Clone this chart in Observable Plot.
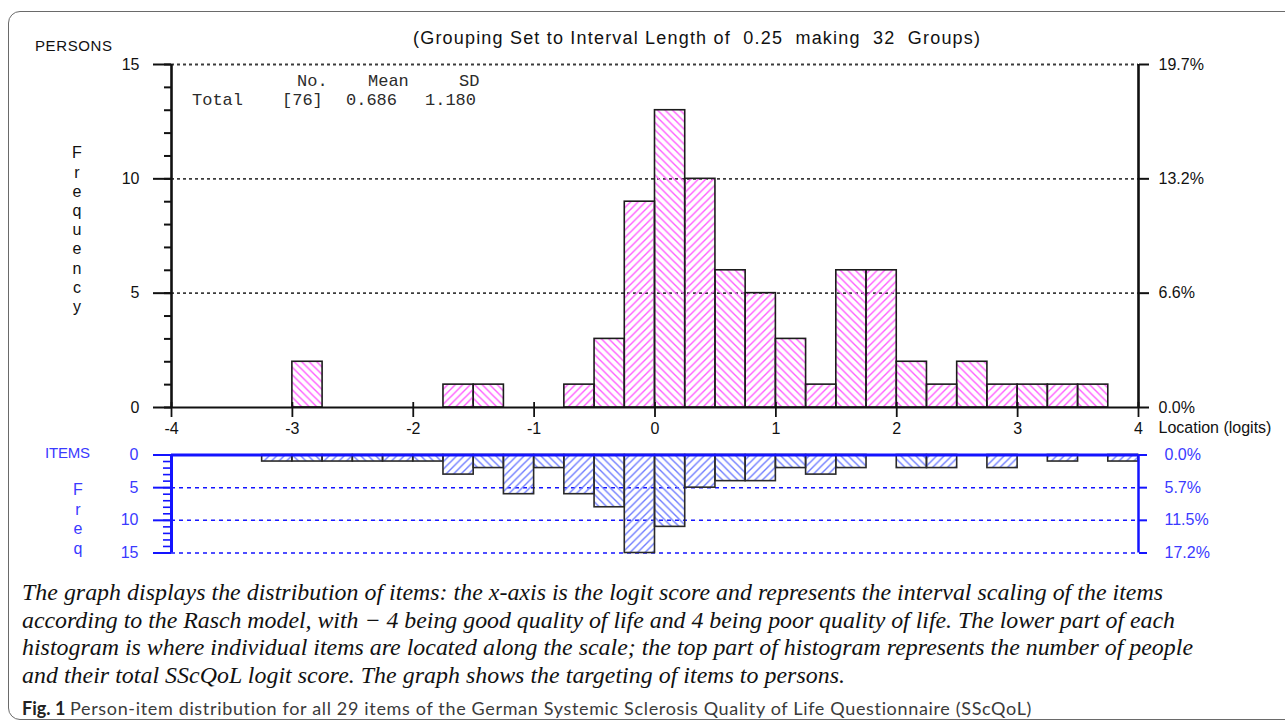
<!DOCTYPE html>
<html>
<head>
<meta charset="utf-8">
<script src="https://cdn.jsdelivr.net/npm/d3@7"></script>
<script src="https://cdn.jsdelivr.net/npm/@observablehq/plot@0.6"></script>
<style>
  html, body { margin: 0; padding: 0; background: #fff; }
  #root { position: relative; width: 1285px; height: 726px; overflow: hidden; background: #fff;
          font-family: "Liberation Sans", Arial, sans-serif; }
  .abs { position: absolute; white-space: pre; line-height: 1; }
  .plotbox { position: absolute; left: 0; }
  #frame { position: absolute; left: 8px; top: 11px; width: 1300px; height: 709px;
           border: 1.5px solid #6a6a6a; border-radius: 12px; box-sizing: border-box; }
</style>
</head>
<body>
<div id="root"><div id="frame"></div></div>
<script>
// ---------------- data ----------------
const binWidth = 0.25;
const xDomain = [-4, 4];
const xTicks = [-4, -3, -2, -1, 0, 1, 2, 3, 4];
const freqTicks = [0, 5, 10, 15];
const freqMinorTicks = [0, 1, 2, 3, 4, 5, 6, 7, 8, 9, 10, 11, 12, 13, 14, 15];

// persons: left edge of each 0.25-logit group and its count
const personBinStart = [-3, -1.75, -1.5, -0.75, -0.5, -0.25, 0, 0.25, 0.5, 0.75, 1, 1.25, 1.5, 1.75, 2, 2.25, 2.5, 2.75, 3, 3.25, 3.5];
const personCount    = [ 2,     1,    1,     1,    3,     9, 13,   10,   6,    5, 3,    1,   6,    6, 2,    1,   2,    1, 1,    1,   1];

// items (thresholds): left edge of each group and its count
const itemBinStart = [-3.25, -3, -2.75, -2.5, -2.25, -2, -1.75, -1.5, -1.25, -1, -0.75, -0.5, -0.25, 0, 0.25, 0.5, 0.75, 1, 1.25, 1.5, 2, 2.25, 2.75, 3.25, 3.75];
const itemCount    = [    1,  1,     1,    1,     1,  1,     3,    2,     6,  2,     6,    8,    15, 11,   5,   4,    4, 2,    3,   2, 2,    2,    2,    1,    1];

const statHeaders = ["No.", "Mean", "SD"];
const statRowLabel = "Total";
const statValues = ["[76]", "0.686", "1.180"];

const titleText = "(Grouping Set to Interval Length of  0.25  making  32  Groups)";
const captionLines = [
  "The graph displays the distribution of items: the x-axis is the logit score and represents the interval scaling of the items",
  "according to the Rasch model, with \u2212 4 being good quality of life and 4 being poor quality of life. The lower part of each",
  "histogram is where individual items are located along the scale; the top part of histogram represents the number of people",
  "and their total SScQoL logit score. The graph shows the targeting of items to persons."
];
const figLabel = "Fig. 1";
const figText = "Person-item distribution for all 29 items of the German Systemic Sclerosis Quality of Life Questionnaire (SScQoL)";

// ---------------- helpers ----------------
const root = document.getElementById("root");
const personTotal = d3.sum(personCount);
const itemTotal = d3.sum(itemCount);
const pct = total => d => (d / total * 100).toFixed(1) + "%";
const binIndex = lo => Math.round((lo - xDomain[0]) / binWidth);

const persons = personBinStart.map((lo, i) => ({lo, hi: lo + binWidth, count: personCount[i], k: binIndex(lo)}));
const items = itemBinStart.map((lo, i) => ({lo, hi: lo + binWidth, count: itemCount[i], k: binIndex(lo)}));

function addHatch(svg, prefix, color) {
  const s = 7.5;
  const defs = d3.select(svg).insert("defs", ":first-child");
  const back = defs.append("pattern").attr("id", prefix + "Back").attr("patternUnits", "userSpaceOnUse")
    .attr("width", s).attr("height", s);
  back.append("path").attr("d", `M0,0L${s},${s}M${-s/2},${s/2}L${s/2},${s*1.5}M${s/2},${-s/2}L${s*1.5},${s/2}`)
    .attr("stroke", color).attr("stroke-width", 1.4).attr("fill", "none");
  const fwd = defs.append("pattern").attr("id", prefix + "Fwd").attr("patternUnits", "userSpaceOnUse")
    .attr("width", s).attr("height", s);
  fwd.append("path").attr("d", `M0,${s}L${s},0M${-s/2},${s/2}L${s/2},${-s/2}M${s/2},${s*1.5}L${s*1.5},${s/2}`)
    .attr("stroke", color).attr("stroke-width", 1.4).attr("fill", "none");
}

function place(txt, o) {
  const el = document.createElement("div");
  el.className = "abs";
  el.textContent = txt;
  el.style.left = o.left + "px";
  el.style.top = (o.cy - o.size * 0.5) + "px";
  el.style.fontSize = o.size + "px";
  if (o.family) el.style.fontFamily = o.family;
  if (o.weight) el.style.fontWeight = o.weight;
  if (o.italic) el.style.fontStyle = "italic";
  el.style.color = o.color || "#111";
  if (o.lineHeight) el.style.lineHeight = o.lineHeight + "px";
  if (o.align) { el.style.textAlign = o.align; el.style.width = o.width + "px"; }
  root.appendChild(el);
  if (o.fit) {
    const w = el.getBoundingClientRect().width;
    el.style.letterSpacing = ((o.fit - w) / (txt.length - 1)) + "px";
  }
  return el;
}
function naturalWidth(txt, size, family, italic, weight) {
  const el = document.createElement("span");
  el.className = "abs";
  el.textContent = txt;
  el.style.fontSize = size + "px";
  el.style.fontFamily = family;
  if (italic) el.style.fontStyle = "italic";
  if (weight) el.style.fontWeight = weight;
  root.appendChild(el);
  const w = el.getBoundingClientRect().width;
  el.remove();
  return w;
}

// ---------------- persons histogram ----------------
const black = "#111";
const topPlot = Plot.plot({
  width: 1285, height: 440,
  marginLeft: 171, marginRight: 147, marginTop: 64, marginBottom: 33,
  x: {domain: xDomain},
  y: {domain: [0, 15]},
  style: {background: "transparent", overflow: "visible", fontSize: "16px",
          fontFamily: "'Liberation Sans', Arial, sans-serif", color: black},
  marks: [
    Plot.ruleY(freqTicks.filter(d => d > 0), {stroke: "#3c3c3c", strokeWidth: 1.8, strokeDasharray: "3,3"}),
    Plot.rectY(persons, {filter: d => d.k % 2 === 0, x1: "lo", x2: "hi", y1: 0, y2: "count",
      fill: "url(#persBack)", stroke: "#1c1c1c", strokeWidth: 1.6}),
    Plot.rectY(persons, {filter: d => d.k % 2 === 1, x1: "lo", x2: "hi", y1: 0, y2: "count",
      fill: "url(#persFwd)", stroke: "#1c1c1c", strokeWidth: 1.6}),
    Plot.ruleY([0], {stroke: black, strokeWidth: 2}),
    Plot.ruleX([xDomain[0]], {y1: 0, y2: 15, stroke: black, strokeWidth: 2.6}),
    Plot.ruleX([xDomain[1]], {y1: 0, y2: 15, stroke: black, strokeWidth: 2.6}),
    Plot.axisY(freqTicks, {anchor: "left", tickSize: 18, tickPadding: 14, strokeWidth: 2, label: null}),
    Plot.axisY(freqMinorTicks, {anchor: "left", tickSize: 7, tickFormat: () => "", strokeWidth: 2, label: null}),
    Plot.axisY(freqTicks, {anchor: "right", tickSize: 10, tickPadding: 10, strokeWidth: 2,
      tickFormat: pct(personTotal), label: null}),
    Plot.axisX(xTicks, {anchor: "bottom", tickSize: 10, tickPadding: 5, strokeWidth: 1.8, label: null,
      tickFormat: d => String(d)}),
    Plot.ruleX(xTicks, {y1: 0, y2: 0, insetTop: -5, stroke: black, strokeWidth: 1.8}),
    Plot.text(["Location (logits)"], {text: d => d, frameAnchor: "bottom-right", dx: 20, dy: 25,
      textAnchor: "start", fontSize: 16, fill: black})
  ]
});
addHatch(topPlot, "pers", "#ff5cff");
const topBox = document.createElement("div");
topBox.className = "plotbox"; topBox.style.top = "0px";
topBox.appendChild(topPlot);
root.appendChild(topBox);

// ---------------- items histogram ----------------
const blueLine = "#1414ff";
const blueText = "#3a3aff";
const itemPlot = Plot.plot({
  width: 1285, height: 130,
  marginLeft: 171, marginRight: 147, marginTop: 14.5, marginBottom: 17.5,
  x: {domain: xDomain, axis: null},
  y: {domain: [0, 15], reverse: true},
  style: {background: "transparent", overflow: "visible", fontSize: "16px",
          fontFamily: "'Liberation Sans', Arial, sans-serif", color: blueText},
  marks: [
    Plot.ruleY(freqTicks.filter(d => d > 0), {stroke: blueLine, strokeWidth: 1.5, strokeDasharray: "4,4"}),
    Plot.rectY(items, {filter: d => d.k % 2 === 0, x1: "lo", x2: "hi", y1: 0, y2: "count",
      fill: "url(#itemBack)", stroke: "#2a2a2a", strokeWidth: 1.6}),
    Plot.rectY(items, {filter: d => d.k % 2 === 1, x1: "lo", x2: "hi", y1: 0, y2: "count",
      fill: "url(#itemFwd)", stroke: "#2a2a2a", strokeWidth: 1.6}),
    Plot.ruleY([0], {stroke: blueLine, strokeWidth: 3}),
    Plot.ruleX([xDomain[0]], {y1: 0, y2: 15, stroke: blueLine, strokeWidth: 3}),
    Plot.ruleX([xDomain[1]], {y1: 0, y2: 15, stroke: blueLine, strokeWidth: 2.5}),
    Plot.axisY(freqTicks, {anchor: "left", tickSize: 18, tickPadding: 15, stroke: blueLine, fill: blueText,
      strokeWidth: 2, label: null}),
    Plot.axisY(freqMinorTicks, {anchor: "left", tickSize: 8, tickFormat: () => "", stroke: blueLine,
      strokeWidth: 1.6, label: null}),
    Plot.axisY(freqTicks, {anchor: "right", tickSize: 8, tickPadding: 18, stroke: blueLine, fill: blueText,
      strokeWidth: 2, tickFormat: pct(itemTotal), label: null})
  ]
});
addHatch(itemPlot, "item", "#6e7cff");
const itemBox = document.createElement("div");
itemBox.className = "plotbox"; itemBox.style.top = "440px";
itemBox.appendChild(itemPlot);
root.appendChild(itemBox);

// ---------------- texts ----------------
const sans = "'Liberation Sans', Arial, sans-serif";
const mono = "'Liberation Mono', 'Courier New', monospace";
place(titleText, {left: 413, cy: 38, size: 18, family: sans, color: "#111", fit: 567});
place("PERSONS", {left: 35, cy: 45, size: 15, family: sans, color: "#111", fit: 77});
place("F\nr\ne\nq\nu\ne\nn\nc\ny", {left: 67, cy: 153 - 9.6 + 8, size: 16, family: sans, lineHeight: 19.2,
  align: "center", width: 20, color: "#111"});

// statistics box
const headerLeft = [297, 368, 459];
statHeaders.forEach((t, i) => place(t, {left: headerLeft[i], cy: 81, size: 17, family: mono, color: "#2b2b2b"}));
place(statRowLabel, {left: 192, cy: 100, size: 17, family: mono, color: "#2b2b2b"});
const valueLeft = [282, 346, 425];
statValues.forEach((t, i) => place(t, {left: valueLeft[i], cy: 100, size: 17, family: mono, color: "#2b2b2b"}));

// items panel labels
place("ITEMS", {left: 45, cy: 452, size: 15, family: sans, color: blueText, fit: 45});
place("F\nr\ne\nq", {left: 68, cy: 490 - 9.8 + 8, size: 16, family: sans, lineHeight: 19.6,
  align: "center", width: 20, color: blueText});

// caption: one font size that fits the three full lines, then fine-tune spacing per line
const serif = "'Liberation Serif', 'Times New Roman', serif";
const capCy = [593, 621, 648, 676];
const capEnd = [1163, 1175, 1193, 845];
const baseSize = 20;
let sumNat = 0, sumTarget = 0;
for (let i = 0; i < 3; i++) { sumNat += naturalWidth(captionLines[i], baseSize, serif, true); sumTarget += capEnd[i] - 22; }
const capSize = baseSize * sumTarget / sumNat;
captionLines.forEach((t, i) => place(t, {left: 22, cy: capCy[i], size: capSize, family: serif, italic: true,
  color: "#111", fit: capEnd[i] - 22}));

const figFont = "Lato, 'Open Sans', sans-serif";
const figSize = Math.min(18, 16 * 962 / naturalWidth(figText, 16, figFont, false, 400));
place(figLabel, {left: 22, cy: 708, size: figSize, family: figFont, weight: 700, color: "#222"});
place(figText, {left: 70, cy: 708, size: figSize, family: figFont, weight: 400, color: "#3a3a3a", fit: 962});
</script>
</body>
</html>
